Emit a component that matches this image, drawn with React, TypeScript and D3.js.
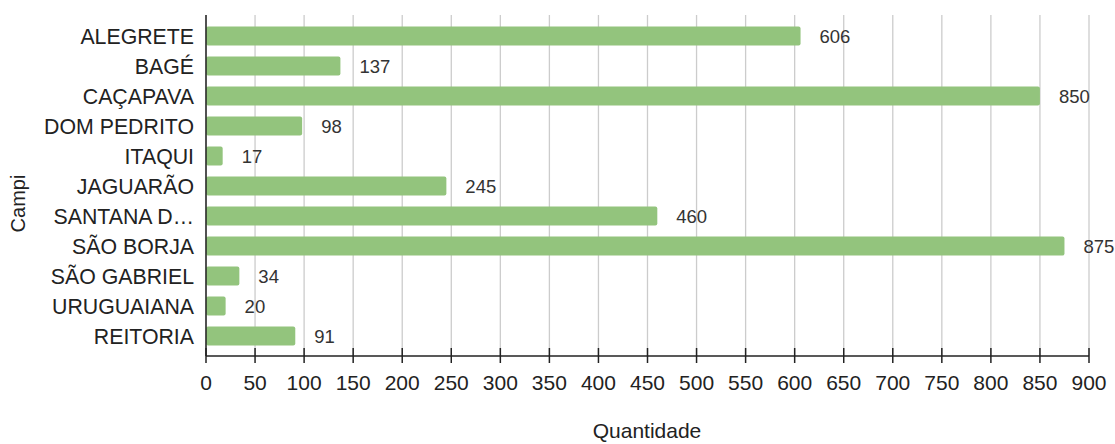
import React from "react";
import * as d3 from "d3";

const categories = ["ALEGRETE","BAGÉ","CAÇAPAVA","DOM PEDRITO","ITAQUI","JAGUARÃO","SANTANA D…","SÃO BORJA","SÃO GABRIEL","URUGUAIANA","REITORIA"];
const values = [606,137,850,98,17,245,460,875,34,20,91];
const ticks = [0,50,100,150,200,250,300,350,400,450,500,550,600,650,700,750,800,850,900];
const xTitle = "Quantidade";
const yTitle = "Campi";

export default function App() {
  const W = 1115, H = 444;
  const x = d3.scaleLinear().domain([0, 900]).range([206, 1089]);
  const y = d3.scaleBand<string>().domain(categories).range([21, 351]).paddingInner(0.36).paddingOuter(0.18);
  const axisY = 356;
  const font = "'Liberation Sans', Arial, sans-serif";
  return (
    <svg width={W} height={H} style={{ position: "absolute", left: 0, top: 0, background: "#fff" }}>
      {ticks.map(t => (
        <line key={"g"+t} x1={x(t)} x2={x(t)} y1={15} y2={axisY} stroke="#cccccc" strokeWidth={1.3} />
      ))}
      {categories.map((c, i) => {
        const cy = (y(c) as number) + y.bandwidth() / 2;
        return (
          <g key={c}>
            <rect x={x(0)} y={cy - 9.5} width={x(values[i]) - x(0)} height={19} rx={2} fill="#93c47d" />
            <text x={x(values[i]) + 19} y={cy} dy="0.36em" fontFamily={font} fontSize={18.5} fill="#333">{values[i]}</text>
            <text x={194} y={cy} dy="0.36em" textAnchor="end" fontFamily={font} fontSize={21.3} fill="#222">{c}</text>
          </g>
        );
      })}
      <line x1={x(0)} x2={x(0)} y1={15} y2={axisY} stroke="#222" strokeWidth={1.5} />
      <line x1={x(0)} x2={x(900)} y1={axisY} y2={axisY} stroke="#222" strokeWidth={1.5} />
      {ticks.map(t => (
        <g key={"t"+t}>
          <line x1={x(t)} x2={x(t)} y1={348} y2={363} stroke="#222" strokeWidth={1.5} />
          <text x={x(t)} y={390} textAnchor="middle" fontFamily={font} fontSize={21} fill="#222">{t}</text>
        </g>
      ))}
      <text x={647} y={438} textAnchor="middle" fontFamily={font} fontSize={21} fill="#222">{xTitle}</text>
      <text transform="translate(25,203.5) rotate(-90)" textAnchor="middle" fontFamily={font} fontSize={20} fill="#222">{yTitle}</text>
    </svg>
  );
}
